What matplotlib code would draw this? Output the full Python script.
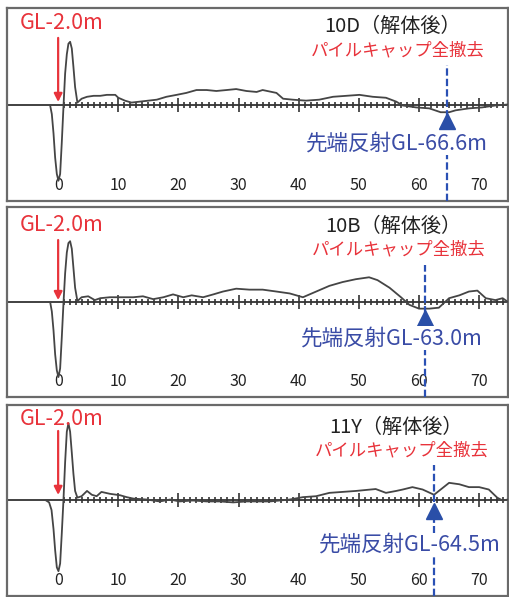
import matplotlib
matplotlib.use('Agg')
import matplotlib.pyplot as plt
import numpy as np

plt.rcParams['font.family'] = ['Noto Sans CJK JP', 'DejaVu Sans']

# 波形データ (x: GL-2.0m を 0 とした深さ, y: 相対振幅)
x_10d = [-1.33, -1.05, -0.77, -0.5, -0.22, 0.05, 0.33, 0.6, 0.88, 1.16, 1.44, 1.71, 1.99, 2.27, 2.54, 2.82, 3.2,
         3.9, 4.8, 5.9, 7.0, 8.1, 9.5, 10.0, 11.1, 12.2, 13.6, 15.0, 16.4, 18.0, 19.7, 21.3, 23.0, 24.7, 26.3,
         28.0, 29.6, 31.3, 33.0, 34.0, 36.3, 37.4, 39.0, 41.2, 43.4, 45.7, 47.9, 50.1, 52.3, 54.5, 56.2, 57.3,
         59.5, 61.7, 63.6, 65.0, 66.1, 68.3, 70.5, 72.7, 74.8]
y_10d = [-0.01, -0.10, -0.30, -0.55, -0.72, -0.79, -0.72, -0.40, -0.03, 0.32, 0.52, 0.63, 0.65, 0.58, 0.39, 0.18, 0.02,
         0.06, 0.08, 0.09, 0.09, 0.10, 0.10, 0.07, 0.04, 0.02, 0.03, 0.04, 0.05, 0.08, 0.10, 0.12, 0.15, 0.15, 0.14,
         0.15, 0.16, 0.14, 0.13, 0.15, 0.12, 0.06, 0.05, 0.04, 0.05, 0.08, 0.09, 0.10, 0.08, 0.07, 0.03, -0.01,
         -0.03, -0.04, -0.08, -0.08, -0.06, -0.04, -0.03, -0.01, 0.0]

x_10b = [-1.33, -1.05, -0.77, -0.5, -0.22, 0.05, 0.33, 0.6, 0.88, 1.16, 1.44, 1.71, 1.99, 2.27, 2.54, 2.82, 3.2,
         3.9, 5.0, 6.1, 7.0, 8.6, 10.3, 12.5, 14.1, 15.8, 17.5, 19.1, 20.8, 22.2, 24.1, 25.8, 27.4, 29.6, 31.8,
         34.0, 36.3, 38.5, 40.7, 42.9, 45.1, 47.3, 49.5, 51.7, 53.1, 55.1, 57.0, 58.4, 60.0, 61.7, 63.3, 65.0,
         66.7, 68.3, 69.7, 71.1, 72.7, 73.9, 74.8]
y_10b = [0.0, -0.10, -0.30, -0.55, -0.72, -0.79, -0.70, -0.38, -0.02, 0.30, 0.52, 0.62, 0.64, 0.56, 0.36, 0.15, 0.01,
         0.05, 0.06, 0.02, 0.04, 0.05, 0.05, 0.05, 0.06, 0.03, 0.05, 0.08, 0.05, 0.07, 0.05, 0.08, 0.11, 0.14, 0.13,
         0.13, 0.11, 0.09, 0.05, 0.11, 0.17, 0.21, 0.24, 0.26, 0.23, 0.15, 0.05, -0.03, -0.07, -0.07, -0.06, 0.04,
         0.07, 0.11, 0.12, 0.04, 0.02, 0.04, 0.0]

x_11y = [-2.0, -1.5, -1.1, -0.77, -0.5, -0.22, 0.05, 0.33, 0.6, 0.88, 1.16, 1.44, 1.71, 1.99, 2.27, 2.54, 2.82, 3.2,
         3.9, 4.8, 5.6, 6.4, 7.2, 8.6, 10.3, 11.4, 12.5, 14.7, 16.9, 18.6, 20.2, 22.4, 24.7, 26.9, 29.1, 31.3,
         33.5, 35.2, 38.5, 40.7, 42.9, 45.1, 47.3, 49.5, 52.8, 54.5, 56.2, 57.3, 58.9, 60.6, 62.5, 63.9, 65.0,
         66.7, 68.3, 70.0, 71.6, 73.0, 73.9, 74.8]
y_11y = [0.0, -0.02, -0.10, -0.30, -0.52, -0.70, -0.74, -0.66, -0.35, 0.0, 0.40, 0.72, 0.81, 0.72, 0.50, 0.28, 0.10, 0.03,
         0.045, 0.10, 0.06, 0.045, 0.09, 0.07, 0.055, 0.035, 0.02, 0.01, -0.01, 0.01, -0.01, 0.0, -0.01, -0.01, -0.02, -0.01,
         -0.01, -0.01, 0.01, 0.035, 0.045, 0.08, 0.09, 0.10, 0.12, 0.08, 0.10, 0.115, 0.14, 0.115, 0.06, 0.13, 0.185,
         0.17, 0.14, 0.14, 0.115, 0.03, 0.0, 0.01]

pile_names = ['10D（解体後）', '10B（解体後）', '11Y（解体後）']
tip_depths = [66.6, 63.0, 64.5]   # 先端反射 GL-〇m
gl_offset = 2.0
tick_values = [0, 10, 20, 30, 40, 50, 60, 70]
tick_labels = ['0', '10', '20', '30', '40', '50', '60', '70']

waves = [(x_10d, y_10d), (x_10b, y_10b), (x_11y, y_11y)]

RED = '#e8333b'
BLUE = '#3a4ca6'
DASH = '#2a50b4'
WAVE = '#454545'
AXC = '#333333'

# パネル位置 [left, bottom, width, height] と注記位置
panel_pos = [[0.0138, 0.6633, 0.9843, 0.3233],
             [0.0138, 0.3350, 0.9843, 0.3183],
             [0.0138, 0.0017, 0.9843, 0.3199]]
gl_y = [0.922, 0.905, 0.927]
arrow_top = [0.845, 0.826, 0.864]
arrow_tip = [0.513, 0.51, 0.529]
title_xy = [(0.770, 0.902), (0.772, 0.895), (0.776, 0.885)]
red_xy = [(0.780, 0.782), (0.782, 0.774), (0.788, 0.764)]
blue_xy = [(0.778, 0.30), (0.769, 0.31), (0.804, 0.267)]
dash_top = [0.705, 0.695, 0.686]
tri_y = [-0.17, -0.17, -0.11]

# ゼロ線上の目盛 (1m毎, 10m毎は長く)
minor_x = [v for v in range(1, 75) if v % 10 != 0]
major_x = tick_values[1:]

fig = plt.figure(figsize=(5.09, 5.97), dpi=100)

for i in range(3):
    ax = fig.add_axes(panel_pos[i])
    xs, ys = waves[i]
    ax.set_xlim(-8.5, 74.8)
    ax.set_ylim(-1, 1)

    # 枠
    for sp in ax.spines.values():
        sp.set_color('#6a6a6a')
        sp.set_linewidth(1.6)
    ax.set_yticks([])
    ax.set_xticks(tick_values)
    ax.set_xticklabels(tick_labels)
    ax.tick_params(axis='x', length=0, pad=-17, labelsize=11.5, labelcolor='#222222')

    # ゼロ線と目盛
    ax.axhline(0, color=AXC, lw=1.3, zorder=2)
    ax.plot(minor_x, [0] * len(minor_x), ls='', marker='|', ms=5, mew=1.2, color=AXC, zorder=2)
    ax.plot(major_x, [0] * len(major_x), ls='', marker='|', ms=9.5, mew=1.2, color=AXC, zorder=2)

    ax.plot(xs, ys, color=WAVE, lw=1.3, zorder=3)

    tip_x = tip_depths[i] - gl_offset
    ax.axvline(tip_x, ymin=0, ymax=dash_top[i], color=DASH, lw=1.6,
               ls=(0, (3.3, 1.4)), zorder=4)
    ax.plot([tip_x], [tri_y[i]], marker='^', ms=11, color='#2a4fa8', zorder=6)

    ax.text(0.11, gl_y[i], 'GL-2.0m', transform=ax.transAxes, color=RED,
            fontsize=15.5, ha='center', va='center')
    ax.annotate('', xy=(0, arrow_tip[i]), xytext=(0, arrow_top[i]),
                xycoords=('data', 'axes fraction'), textcoords=('data', 'axes fraction'),
                arrowprops=dict(arrowstyle='-|>', color=RED, lw=1.6, mutation_scale=12,
                                shrinkA=0, shrinkB=0), zorder=5)

    ax.text(*title_xy[i], pile_names[i], transform=ax.transAxes, color='#222222',
            fontsize=14.5, ha='center', va='center')
    ax.text(*red_xy[i], 'パイルキャップ全撤去', transform=ax.transAxes, color=RED,
            fontsize=12.5, ha='center', va='center')
    ax.text(*blue_xy[i], f'先端反射GL-{tip_depths[i]:.1f}m', transform=ax.transAxes,
            color=BLUE, fontsize=15.5, ha='center', va='center', zorder=7,
            bbox=dict(facecolor='white', edgecolor='none', pad=1))

fig.savefig('out.png', dpi=100)
